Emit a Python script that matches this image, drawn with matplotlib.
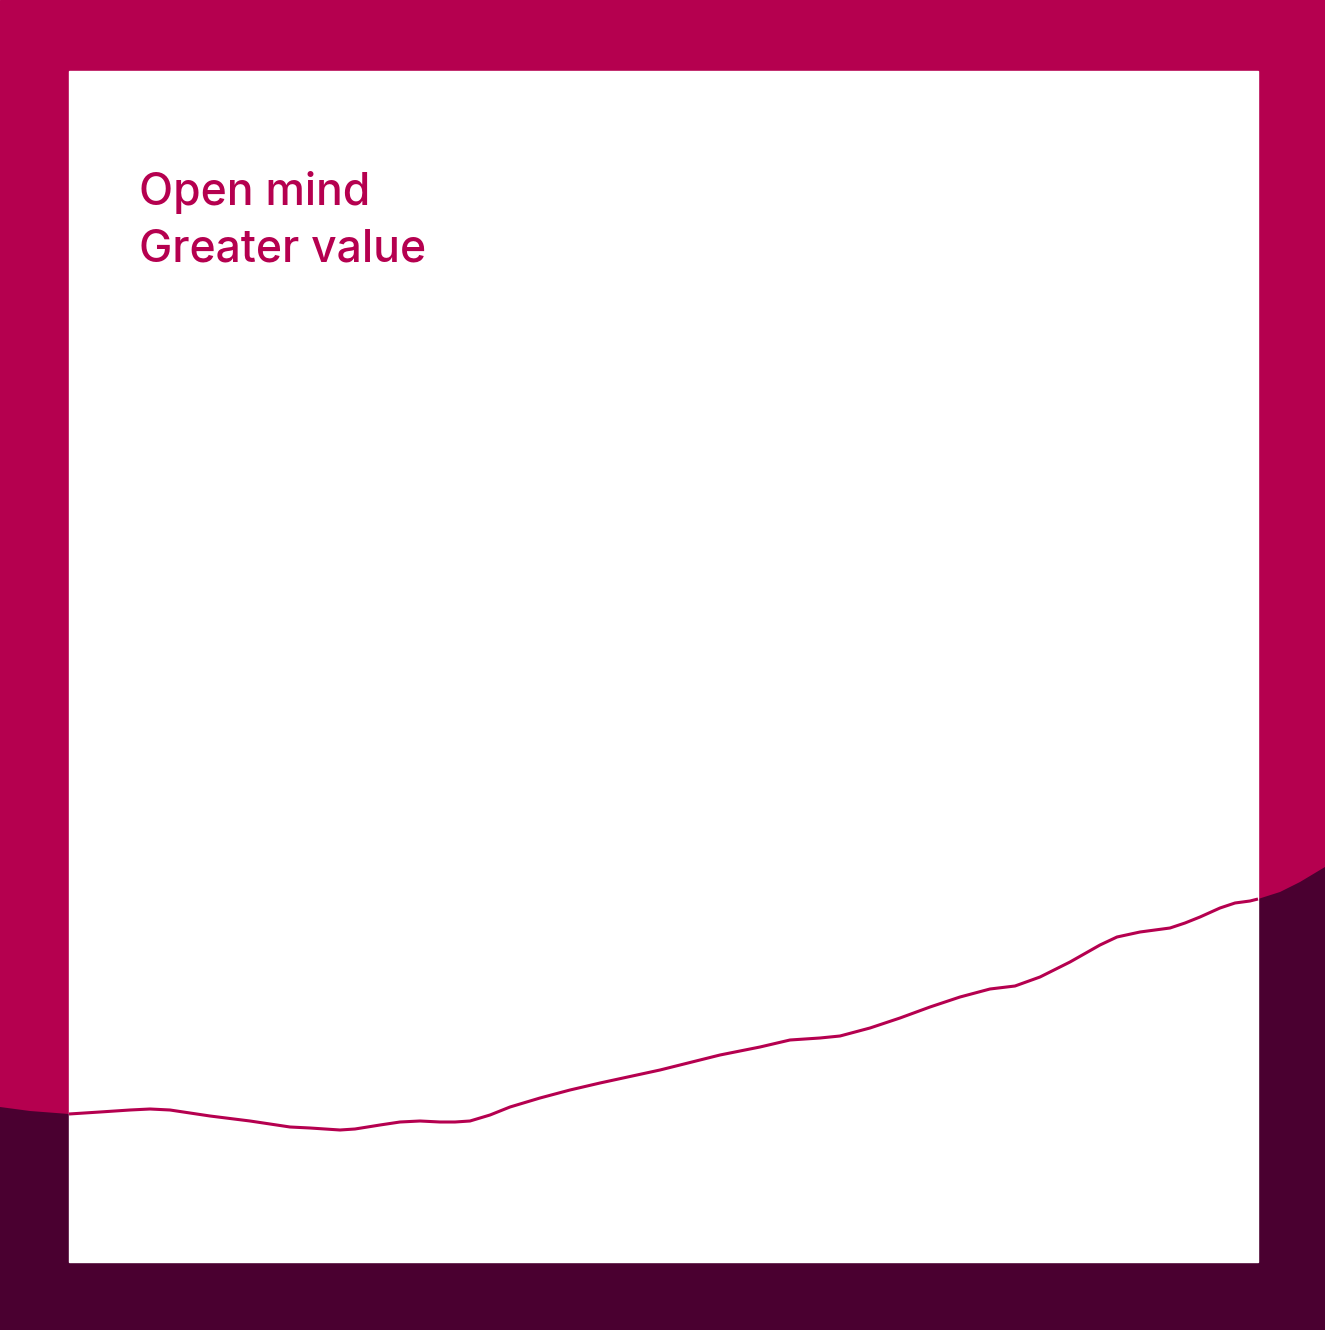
import matplotlib.pyplot as plt

W, H = 1325, 1330

# curve (pixel x, pixel y from top)
curve_x = [0, 30, 69, 100, 130, 150, 170, 210, 250, 290, 310, 340, 355, 380,
           400, 420, 440, 455, 470, 490, 510, 540, 570, 600, 660, 720, 760,
           790, 820, 840, 870, 900, 930, 960, 990, 1015, 1040, 1070, 1100,
           1117, 1140, 1170, 1185, 1200, 1220, 1235, 1250, 1258, 1280, 1300, 1325]
curve_y = [1107, 1111, 1114, 1112, 1110, 1109, 1110, 1116, 1121, 1127, 1128, 1130,
           1129, 1125, 1122, 1121, 1122, 1122, 1121, 1115, 1107, 1098, 1090, 1083,
           1070, 1055, 1047, 1040, 1038, 1036, 1028, 1018, 1007, 997, 989, 986,
           977, 962, 945, 937, 932, 928, 923, 917, 908, 903, 901, 899, 892, 882, 867]

title_lines = ["Open mind", "Greater value"]

magenta = "#B5004F"
plum = "#4A0030"

fig = plt.figure(figsize=(W / 100, H / 100), dpi=100)
ax = fig.add_axes([0, 0, 1, 1])
ax.set_xlim(0, W)
ax.set_ylim(H, 0)
ax.axis("off")

ax.add_patch(plt.Rectangle((0, 0), W, H, color=magenta, zorder=0))
ax.fill_between(curve_x, curve_y, H, color=plum, lw=0, zorder=1)
ax.add_patch(plt.Rectangle((69, 71), 1258 - 69, 1262 - 71, color="white", zorder=2))

inner = [(x, y) for x, y in zip(curve_x, curve_y) if 69 <= x <= 1258]
ax.plot([p[0] for p in inner], [p[1] for p in inner], color=magenta, lw=2.2,
        solid_joinstyle="round", solid_capstyle="butt", zorder=3)

for i, line in enumerate(title_lines):
    ax.text(139, 205 + i * 57, line, color=magenta, fontsize=32,
            family="Inter", fontweight="medium", ha="left", va="baseline", zorder=4)

fig.savefig("out.png", dpi=100)
